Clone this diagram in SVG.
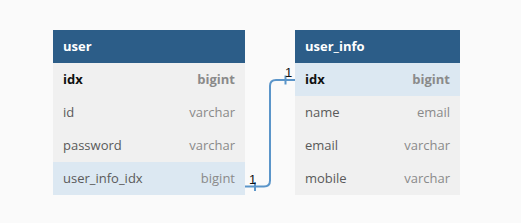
<svg xmlns="http://www.w3.org/2000/svg" width="521" height="223" viewBox="0 0 521 223">
<style>
.hdr{fill:#2c5d88}
.row{fill:#f0f0f0}
.hl{fill:#dce8f2}
text{font-family:"Open Sans","Noto Sans","Liberation Sans",sans-serif;font-size:13px}
.ht{fill:#ffffff;font-weight:bold}
.pk{fill:#111111;font-weight:bold}
.pkt{fill:#8a8a8a;font-weight:bold;text-anchor:end}
.fn{fill:#5a5a5a}
.ft{fill:#8a8a8a;text-anchor:end}
.conn{fill:none;stroke:#5b95c9;stroke-width:2}
.lbl{font-family:"Liberation Sans",Arial,sans-serif;font-size:13px;fill:#111111}
</style>
<rect width="521" height="223" fill="#fafafa"/>
<g id="user">
<rect class="hdr" x="53" y="30" width="192" height="33"/>
<rect class="row" x="53" y="63" width="192" height="99"/>
<rect class="hl" x="53" y="162" width="192" height="33"/>
<text class="ht" x="63" y="51">user</text>
<text class="pk" x="63" y="84">idx</text><text class="pkt" x="235" y="84">bigint</text>
<text class="fn" x="63" y="117">id</text><text class="ft" x="235" y="117">varchar</text>
<text class="fn" x="63" y="150">password</text><text class="ft" x="235" y="150">varchar</text>
<text class="fn" x="63" y="183">user_info_idx</text><text class="ft" x="235" y="183">bigint</text>
</g>
<g id="user_info">
<rect class="hdr" x="295" y="30" width="165" height="33"/>
<rect class="hl" x="295" y="63" width="165" height="33"/>
<rect class="row" x="295" y="96" width="165" height="99"/>
<text class="ht" x="305" y="51">user_info</text>
<text class="pk" x="305" y="84">idx</text><text class="pkt" x="450" y="84">bigint</text>
<text class="fn" x="305" y="117">name</text><text class="ft" x="450" y="117">email</text>
<text class="fn" x="305" y="150">email</text><text class="ft" x="450" y="150">varchar</text>
<text class="fn" x="305" y="183">mobile</text><text class="ft" x="450" y="183">varchar</text>
</g>
<g id="connectors">
<path class="conn" d="M245,186.5 H264 Q270,186.5 270,180.5 V86 Q270,80 276,80 H295"/>
<path class="conn" d="M255,182 V191 M285.5,75.5 V84.5"/>
<text class="lbl" x="249" y="184">1</text>
<text class="lbl" x="285" y="77">1</text>
</g>
</svg>
